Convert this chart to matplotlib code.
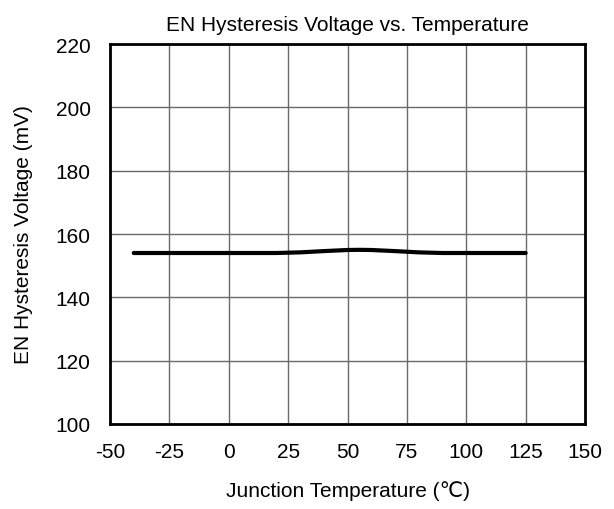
import matplotlib
matplotlib.use("Agg")
import matplotlib.pyplot as plt

temps = [-40, -25, 0, 20, 30, 40, 50, 55, 60, 70, 80, 90, 100, 125]
hyst_mv = [154.0, 154.0, 154.0, 154.0, 154.2, 154.6, 154.95, 155.0, 154.95, 154.6, 154.2, 154.0, 154.0, 154.0]
xticks = [-50, -25, 0, 25, 50, 75, 100, 125, 150]
yticks = [100, 120, 140, 160, 180, 200, 220]

plt.rcParams['font.family'] = ['Liberation Sans', 'DejaVu Sans']
plt.rcParams['axes.unicode_minus'] = False

fig = plt.figure(figsize=(6.14, 5.10), dpi=100)
ax = fig.add_axes([110/614, 1-425/510, 475/614, 380/510])
ax.plot(temps, hyst_mv, color='black', linewidth=3.0, solid_capstyle='round',
        solid_joinstyle='round')
ax.set_xlim(-50, 150)
ax.set_ylim(100, 220)
ax.set_xticks(xticks)
ax.set_yticks(yticks)
ax.tick_params(axis='x', length=0, labelsize=15, pad=13)
ax.tick_params(axis='y', length=0, labelsize=15, pad=14)
ax.grid(True, color='#6a6a6a', linewidth=1.0)
for s in ax.spines.values():
    s.set_linewidth(2.0)
    s.set_color('black')
ax.set_title('EN Hysteresis Voltage vs. Temperature', fontsize=15, pad=10)
ax.set_xlabel('Junction Temperature (℃)', fontsize=15, labelpad=14)
ax.set_ylabel('EN Hysteresis Voltage (mV)', fontsize=15, labelpad=16)
fig.savefig('out.png', dpi=100)
